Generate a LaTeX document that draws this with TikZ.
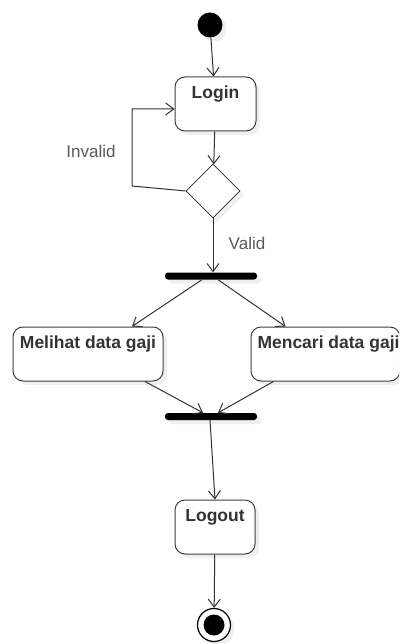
\documentclass[tikz,border=0pt]{standalone}
\usepackage{fontspec}
\setmainfont{Liberation Sans}
\usetikzlibrary{arrows.meta,shapes.geometric,shadows}

\tikzset{
  shade/.style={drop shadow={opacity=0.12, shadow xshift=4pt, shadow yshift=-4pt}},
  action/.style={draw=black!75, line width=1pt, rounded corners=10pt, fill=white, minimum height=54pt, inner sep=0pt, shade},
  acttext/.style={anchor=center, yshift=-18pt, font=\bfseries\fontsize{17.5}{21}\selectfont, text=black!80},
  bar/.style={fill=black, rounded corners=3pt, minimum width=92pt, minimum height=7pt, inner sep=0pt, shade},
  flow/.style={draw=black!80, line width=1pt, -{Straight Barb[length=8pt,width=12pt]}},
  guard/.style={font=\fontsize{17}{20}\selectfont, text=black!65}
}

\begin{document}
\begin{tikzpicture}[x=1pt,y=-1pt]
				\clip (0,0) rectangle (399,644);
				\fill[white] (0,0) rectangle (399,644);
				\node[circle, fill=black, minimum size=25pt, inner sep=0pt, shade] (start) at (210,25) {};
				\node[action, minimum width=81pt, label={[acttext]north:Login}] (login) at (215.5,104) {};
				\node[diamond, draw=black!85, line width=0.8pt, fill=white, minimum width=54pt, minimum height=54pt, inner sep=0pt, shade] (dec) at (213,191) {};
				\node[bar] (fork) at (211,276) {};
				\node[action, minimum width=150pt, label={[acttext]north:Melihat data gaji}] (lihat) at (88,354) {};
				\node[action, minimum width=149pt, label={[acttext, xshift=3pt]north:Mencari data gaji}] (cari) at (325.5,354) {};
				\node[bar] (join) at (211,416.5) {};
				\node[action, minimum width=80pt, label={[acttext]north:Logout}] (logout) at (215,527) {};
				\node[circle, draw=black, line width=1.2pt, fill=white, minimum size=33pt, inner sep=0pt, shade] (stop) at (214,625) {};
				\node[circle, fill=black, minimum size=21pt, inner sep=0pt] (stopdot) at (stop) {};
				\coordinate (loop) at (132,186);
				\node[guard] (invalid) at (91,151) {Invalid};
				\node[guard] (valid) at (247,243) {Valid};
				\draw[flow] (start) -- (login);
				\draw[flow] (login) -- (dec);
				\draw[flow] (dec.west) -- (loop) |- ([yshift=-5pt]login.west);
				\draw[flow] (dec.south) -- (dec.south |- fork.north);
				\draw[flow] ([xshift=-9pt]fork.south) -- ([xshift=44pt]lihat.north);
				\draw[flow] ([xshift=7pt]fork.south) -- ([xshift=-40pt]cari.north);
				\draw[flow] ([xshift=57pt]lihat.south) -- ([xshift=-8pt]join.north);
				\draw[flow] ([xshift=-52pt]cari.south) -- ([xshift=7pt]join.north);
				\draw[flow] ([xshift=-1pt]join.south) -- (logout.north);
				\draw[flow] (logout) -- (stop);
			\end{tikzpicture}
\end{document}
